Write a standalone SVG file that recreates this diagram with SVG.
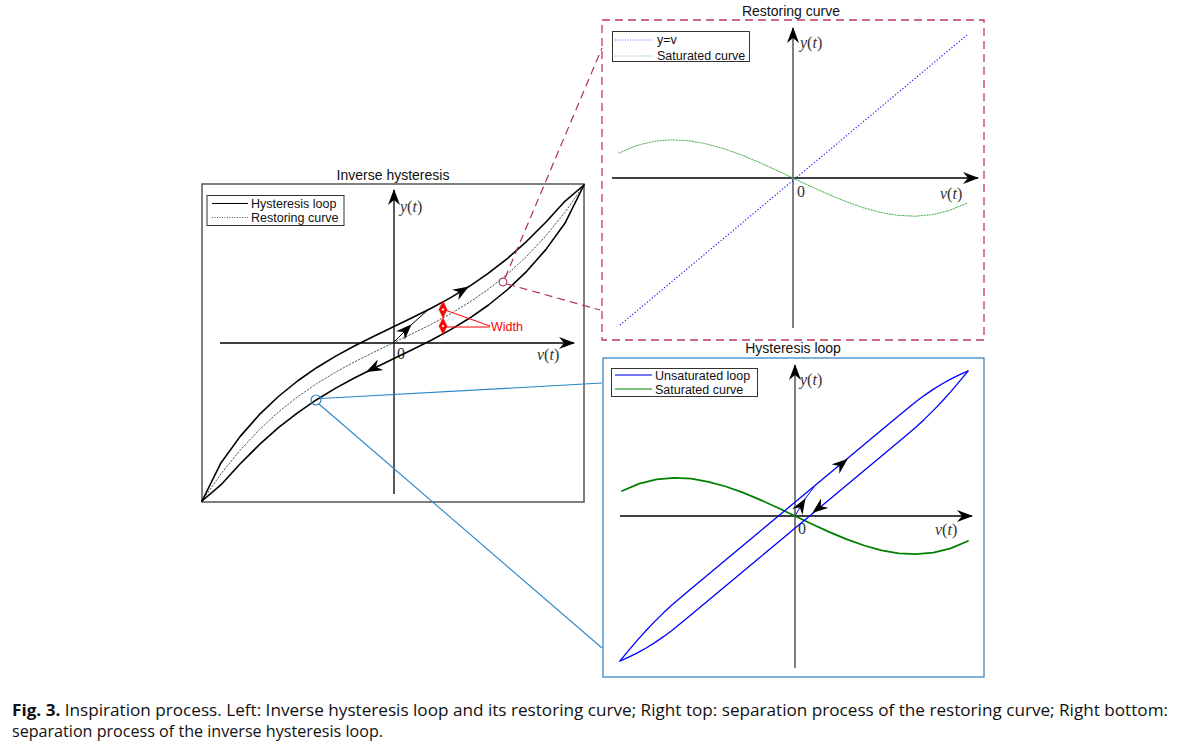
<svg xmlns="http://www.w3.org/2000/svg" width="1181" height="749" viewBox="0 0 1181 749">
<style>
.ttl{font-family:"Liberation Sans",Arial,sans-serif;font-size:14px;fill:#111;text-anchor:middle}
.leg{font-family:"Liberation Sans",Arial,sans-serif;font-size:12.5px;fill:#111}
.ax{font-family:"Liberation Serif","Times New Roman",serif;font-size:16px;fill:#333}
.it{font-style:italic}
.axis{stroke:#000;stroke-width:1.3;fill:none}
.yaxis{stroke:#555;stroke-width:1.5;fill:none}
.cur{fill:none;stroke-linejoin:round;stroke-linecap:round}
.cap{font-family:"Open Sans","Noto Sans",sans-serif;font-size:16px;fill:#111}
</style>
<defs>
<marker id="ah" viewBox="0 0 16 12" refX="15" refY="6" markerWidth="16" markerHeight="12" markerUnits="userSpaceOnUse" orient="auto">
<path d="M0,0 L16,6 L0,12 L5,6 Z" fill="#000"/>
</marker>
</defs>
<rect width="1181" height="749" fill="#fff"/>

<g id="left-panel">
<text class="ttl" x="393" y="180">Inverse hysteresis</text>
<rect x="202" y="184" width="382" height="318" fill="none" stroke="#555" stroke-width="1.5"/>
<line class="axis" x1="220" y1="343" x2="574" y2="343" marker-end="url(#ah)"/>
<line class="axis" x1="394" y1="494" x2="394" y2="190" marker-end="url(#ah)"/>
<text class="ax" x="400" y="212"><tspan class="it">y</tspan>(<tspan class="it">t</tspan>)</text>
<text class="ax" x="397" y="359" font-size="14">0</text>
<text class="ax" x="537" y="360"><tspan class="it">v</tspan>(<tspan class="it">t</tspan>)</text>
<polyline class="cur" stroke="#555" stroke-width="1" stroke-dasharray="1.5,2" points="202,501 221.1,473.7 240.2,450.1 259.3,429.7 278.4,412.1 297.5,396.9 316.6,383.7 335.7,372.1 354.8,361.7 373.9,352.2 393,343 412.1,333.8 431.2,324.3 450.3,313.9 469.4,302.3 488.5,289.1 507.6,273.9 526.7,256.3 545.8,235.9 564.9,212.3 584,185"/>
<polyline class="cur" stroke="#000" stroke-width="1.6" points="202,501 221.1,462.7 240.2,436.4 259.3,414.7 278.4,396.5 297.5,381 316.6,367.7 335.7,356.1 354.8,345.7 373.9,336.2 393,327 412.1,317.8 431.2,308.3 450.3,297.9 469.4,286.3 488.5,273.2 507.6,258.3 526.7,241.3 545.8,222.2 564.9,201.3 584,185"/>
<polyline class="cur" stroke="#000" stroke-width="1.6" points="202,501 221.1,484.7 240.2,463.8 259.3,444.7 278.4,427.7 297.5,412.8 316.6,399.7 335.7,388.1 354.8,377.7 373.9,368.2 393,359 412.1,349.8 431.2,340.3 450.3,329.9 469.4,318.3 488.5,305 507.6,289.5 526.7,271.3 545.8,249.6 564.9,223.3 584,185"/>
<path d="M393,343 L411,325 L429,309" fill="none" stroke="#000" stroke-width="1"/>
<path d="M400,336 L411,325" fill="none" stroke="none" marker-end="url(#ah)"/>
<path d="M455,295 L468,287" fill="none" stroke="none" marker-end="url(#ah)"/>
<path d="M380,365 L367,371.5" fill="none" stroke="none" marker-end="url(#ah)"/>
<g id="width-marks" fill="#f00" stroke="#f00">
<polygon points="443,301 447,309.5 443,318 439,309.5" stroke-width="0.5"/>
<polygon points="443,318 447,326 443,334.5 439,326" stroke-width="0.5"/>
<circle cx="443" cy="309.5" r="1.6" fill="#fff" stroke-width="0.8"/>
<circle cx="443" cy="326" r="1.6" fill="#fff" stroke-width="0.8"/>
<line x1="445" y1="310" x2="490" y2="326" stroke-width="1"/>
<line x1="445" y1="327" x2="490" y2="327" stroke-width="1"/>
</g>
<text x="491" y="331" font-family="Liberation Sans,Arial,sans-serif" font-size="12.5" fill="#f00">Width</text>
<g id="legend-left">
<rect x="207" y="195.5" width="137" height="30" fill="#fff" stroke="#333" stroke-width="1"/>
<line x1="212" y1="203.5" x2="248" y2="203.5" stroke="#000" stroke-width="1"/>
<line x1="212" y1="217.5" x2="248" y2="217.5" stroke="#555" stroke-width="1" stroke-dasharray="1,1.5"/>
<text class="leg" x="251" y="208">Hysteresis loop</text>
<text class="leg" x="251" y="222">Restoring curve</text>
</g>
<circle cx="503" cy="282" r="4" fill="none" stroke="#a8304c" stroke-width="1"/>
<circle cx="316" cy="400" r="5" fill="none" stroke="#2a86c8" stroke-width="1.2"/>
</g>

<g id="restoring-panel">
<text class="ttl" x="791" y="16">Restoring curve</text>
<rect x="602" y="20" width="382" height="320" fill="none" stroke="#c03a5c" stroke-width="1.3" stroke-dasharray="8,5"/>
<line class="axis" x1="612" y1="178" x2="978" y2="178" marker-end="url(#ah)"/>
<line class="yaxis" x1="793" y1="328" x2="793" y2="28" marker-end="url(#ah)"/>
<text class="ax" x="800" y="48"><tspan class="it">y</tspan>(<tspan class="it">t</tspan>)</text>
<text class="ax" x="797" y="197" font-size="14">0</text>
<text class="ax" x="940" y="199"><tspan class="it">v</tspan>(<tspan class="it">t</tspan>)</text>
<line x1="620" y1="325" x2="967" y2="35" stroke="#1a1aff" stroke-width="1.2" stroke-dasharray="1.2,2"/>
<polyline class="cur" stroke="#5cb85c" stroke-width="1.1" stroke-dasharray="1.2,1.5" points="619,153 636.4,145.6 653.8,141.3 671.2,139.8 688.6,140.7 706,143.8 723.4,148.5 740.8,154.7 758.2,161.9 775.6,169.8 793,178 810.4,186.2 827.8,194.1 845.2,201.3 862.6,207.5 880,212.3 897.4,215.3 914.8,216.2 932.2,214.7 949.6,210.4 967,203"/>
<g id="legend-top">
<rect x="612.5" y="31.5" width="137" height="30" fill="#fff" stroke="#333" stroke-width="1"/>
<line x1="615" y1="40" x2="653" y2="40" stroke="#6a6aff" stroke-width="1" stroke-dasharray="1,1.5"/>
<line x1="615" y1="56" x2="653" y2="56" stroke="#6cc06c" stroke-width="1" stroke-dasharray="1,1.5"/>
<text class="leg" x="657" y="44">y=v</text>
<text class="leg" x="657" y="60">Saturated curve</text>
</g>
</g>

<g id="loop-panel">
<text class="ttl" x="793" y="353">Hysteresis loop</text>
<rect x="603" y="358" width="381" height="319" fill="none" stroke="#2a7ec0" stroke-width="1.2"/>
<line class="axis" x1="620" y1="516" x2="972" y2="516" marker-end="url(#ah)"/>
<line class="yaxis" x1="795" y1="668" x2="795" y2="365" marker-end="url(#ah)"/>
<text class="ax" x="800" y="385"><tspan class="it">y</tspan>(<tspan class="it">t</tspan>)</text>
<text class="ax" x="798" y="534" font-size="14">0</text>
<text class="ax" x="935" y="535"><tspan class="it">v</tspan>(<tspan class="it">t</tspan>)</text>
<polyline class="cur" stroke="#008000" stroke-width="1.8" points="622,491 639.3,483.6 656.6,479.3 673.9,477.8 691.2,478.7 708.5,481.8 725.8,486.5 743.1,492.7 760.4,499.9 777.7,507.8 795,516 812.3,524.2 829.6,532.1 846.9,539.3 864.2,545.5 881.5,550.3 898.8,553.3 916.1,554.2 933.4,552.7 950.7,548.4 968,541"/>
<polyline class="cur" stroke="#0000ff" stroke-width="1.3" points="620,661 624.35,655.6 628.7,650.3 637.4,640.1 646.1,630.5 654.8,621.4 663.5,612.85 672.2,604.8 689.6,590 707,575.5 724.4,561 741.8,546.5 759.2,532 776.6,517.5 794,503 811.4,488.5 828.8,474 846.2,459.5 863.6,445 881,430.5 898.4,416 915.8,401.8 924.5,395.35 933.2,389.4 941.9,384 950.6,379.1 959.3,374.8 963.65,372.8 968,371"/>
<polyline class="cur" stroke="#0000ff" stroke-width="1.3" points="620,661 624.35,659.2 628.7,657.2 637.4,652.9 646.1,648 654.8,642.6 663.5,636.65 672.2,630.2 689.6,616 707,601.5 724.4,587 741.8,572.5 759.2,558 776.6,543.5 794,529 811.4,514.5 828.8,500 846.2,485.5 863.6,471 881,456.5 898.4,442 915.8,427.2 924.5,419.15 933.2,410.6 941.9,401.5 950.6,391.9 959.3,381.7 963.65,376.4 968,371"/>
<path d="M795,516 L805,499 L814,487" fill="none" stroke="#0000ff" stroke-width="1"/>
<path d="M799,509 L805,499" fill="none" stroke="none" marker-end="url(#ah)"/>
<path d="M835,469.5 L847,459.5" fill="none" stroke="none" marker-end="url(#ah)"/>
<path d="M825,503 L813,512.5" fill="none" stroke="none" marker-end="url(#ah)"/>
<g id="legend-bottom">
<rect x="611.5" y="368.5" width="146" height="28" fill="#fff" stroke="#333" stroke-width="1"/>
<line x1="615" y1="375" x2="652" y2="375" stroke="#4a4aff" stroke-width="1.3"/>
<line x1="615" y1="389" x2="652" y2="389" stroke="#50b050" stroke-width="1.5"/>
<text class="leg" x="655" y="379.5">Unsaturated loop</text>
<text class="leg" x="655" y="393.5">Saturated curve</text>
</g>
</g>

<g id="connectors" fill="none">
<line x1="505" y1="278" x2="602" y2="48" stroke="#b0304e" stroke-width="1.2" stroke-dasharray="8,5"/>
<line x1="507" y1="284" x2="600" y2="310" stroke="#b0304e" stroke-width="1.2" stroke-dasharray="8,5"/>
<line x1="321" y1="398.5" x2="602" y2="383" stroke="#2a86c8" stroke-width="1.1"/>
<line x1="319" y1="404" x2="602" y2="648" stroke="#2a86c8" stroke-width="1.1"/>
</g>

<g id="caption">
<text class="cap" x="12" y="716" textLength="1156" lengthAdjust="spacingAndGlyphs"><tspan font-weight="bold">Fig. 3.</tspan> Inspiration process. Left: Inverse hysteresis loop and its restoring curve; Right top: separation process of the restoring curve; Right bottom:</text>
<text class="cap" x="12" y="737" textLength="371" lengthAdjust="spacingAndGlyphs">separation process of the inverse hysteresis loop.</text>
</g>
</svg>
